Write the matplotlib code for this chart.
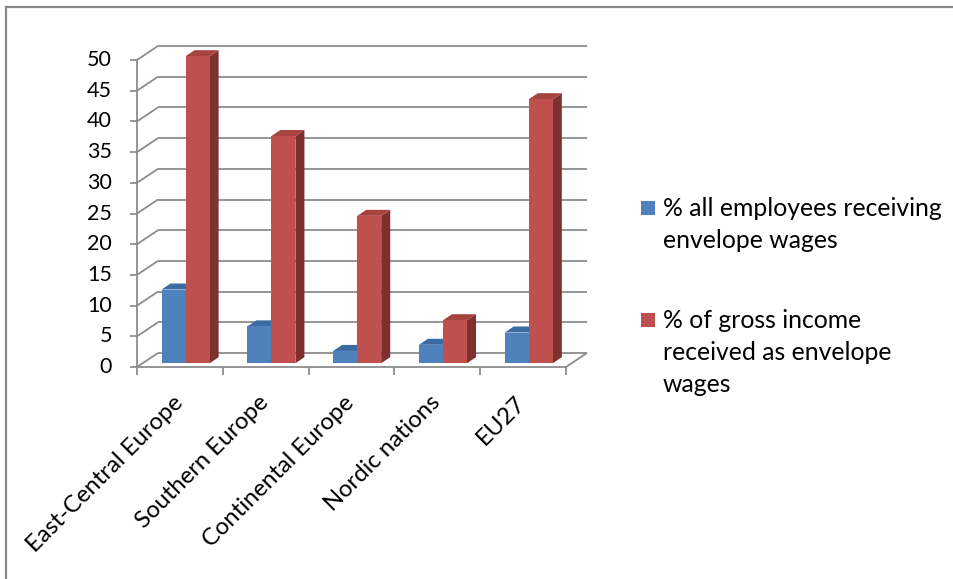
import matplotlib
matplotlib.use("Agg")
import matplotlib.pyplot as plt
from matplotlib.patches import Polygon, Rectangle
from matplotlib.lines import Line2D

categories = ["East-Central Europe", "Southern Europe", "Continental Europe",
              "Nordic nations", "EU27"]
employees_pct = [12, 6, 2, 3, 5]
gross_income_pct = [50, 37, 24, 7, 43]
series_labels = ["% all employees receiving\nenvelope wages",
                 "% of gross income\nreceived as envelope\nwages"]
y_ticks = list(range(0, 55, 5))

FONT = ["Lato", "DejaVu Sans"]
TXT = 17.2
LEG = 17.8
W, H = 954, 579
fig = plt.figure(figsize=(W / 100, H / 100), dpi=100)

# front plot area in pixels
L, R, B, T = 137, 566, 367, 60
ax = fig.add_axes([L / W, (H - B) / H, (R - L) / W, (B - T) / H])
ax.set_xlim(0, len(categories))
ax.set_ylim(0, 50)
ax.axis("off")

px_x = len(categories) / (R - L)
px_y = 50 / (B - T)
# depth vector (full wall depth) in data units
DX, DY = 21 * px_x, 14 * px_y

grid_c = "#8C8C8C"
glw = 1.3

def seg(x0, y0, x1, y1, **kw):
    ax.add_line(Line2D([x0, x1], [y0, y1], color=kw.pop("color", grid_c),
                       lw=kw.pop("lw", glw), clip_on=False,
                       solid_capstyle="butt", **kw))

n = len(categories)
# walls / gridlines
for v in y_ticks:
    seg(0, v, DX, v + DY, zorder=1)
    seg(DX, v + DY, n + DX, v + DY, zorder=1)
    # y ticks
    seg(-7 * px_x, v, 0, v, zorder=1)
    ax.text(-25 * px_x, v, str(v), ha="right", va="center",
            fontsize=15.5, family=FONT, color="#000000")
# front vertical axis
seg(0, 0, 0, 50, zorder=1)
# floor
seg(0, 0, n, 0, zorder=1)
seg(n, 0, n + DX, DY, zorder=1)
# category ticks
for j in range(n + 1):
    seg(j, 0, j, -8 * px_y, zorder=1)

# bars
f0, f1 = 0.27, 0.70
bw = 0.28
colors = [("#4F81BD", "#3C6AA3", "#2F5485"), ("#C0504D", "#A8423F", "#7E302E")]
series = [employees_pct, gross_income_pct]
z = 5
for j in range(n):
    for i, vals in enumerate(series):
        v = vals[j]
        x0 = j + 0.5 - bw + i * bw
        x1 = x0 + bw
        ox, oy = f0 * DX, f0 * DY
        bx, by = f1 * DX, f1 * DY
        front, top_c, side_c = colors[i]
        # side
        ax.add_patch(Polygon([(x1 + ox, oy), (x1 + bx, by), (x1 + bx, v + by),
                              (x1 + ox, v + oy)], closed=True, fc=side_c,
                             ec="none", zorder=z, clip_on=False))
        # top
        ax.add_patch(Polygon([(x0 + ox, v + oy), (x1 + ox, v + oy),
                              (x1 + bx, v + by), (x0 + bx, v + by)], closed=True,
                             fc=top_c, ec="none", zorder=z, clip_on=False))
        # front
        ax.add_patch(Rectangle((x0 + ox, oy), bw, v, fc=front, ec="none",
                               zorder=z + 0.5, clip_on=False))
        z += 1

# category labels
for j, c in enumerate(categories):
    ax.text(j + 0.5 - 8 * px_x, -25 * px_y, c, rotation=45, rotation_mode="anchor",
            ha="right", va="top", fontsize=TXT, family=FONT, color="#000000")

# legend (manual)
leg_items = [(series_labels[0], colors[0][0], 208), (series_labels[1], colors[1][0], 320)]
for lab, col, yc in leg_items:
    fig.patches.append(Rectangle((641 / W, (H - yc - 7) / H), 14 / W, 14 / H,
                                 fc=col, ec="none", transform=fig.transFigure))
    for k, line in enumerate(lab.split("\n")):
        fig.text(663 / W, (H - yc - 32 * k) / H, line, ha="left", va="center",
                 fontsize=LEG, family=FONT)

# outer frame (top and left visible)
fig.add_artist(Line2D([6 / W, 1], [(H - 7) / H, (H - 7) / H], color="#898989",
                      lw=1.6, transform=fig.transFigure))
fig.add_artist(Line2D([6 / W, 6 / W], [0, (H - 7) / H], color="#898989",
                      lw=1.6, transform=fig.transFigure))

fig.savefig("out.png", dpi=100, facecolor="white")
